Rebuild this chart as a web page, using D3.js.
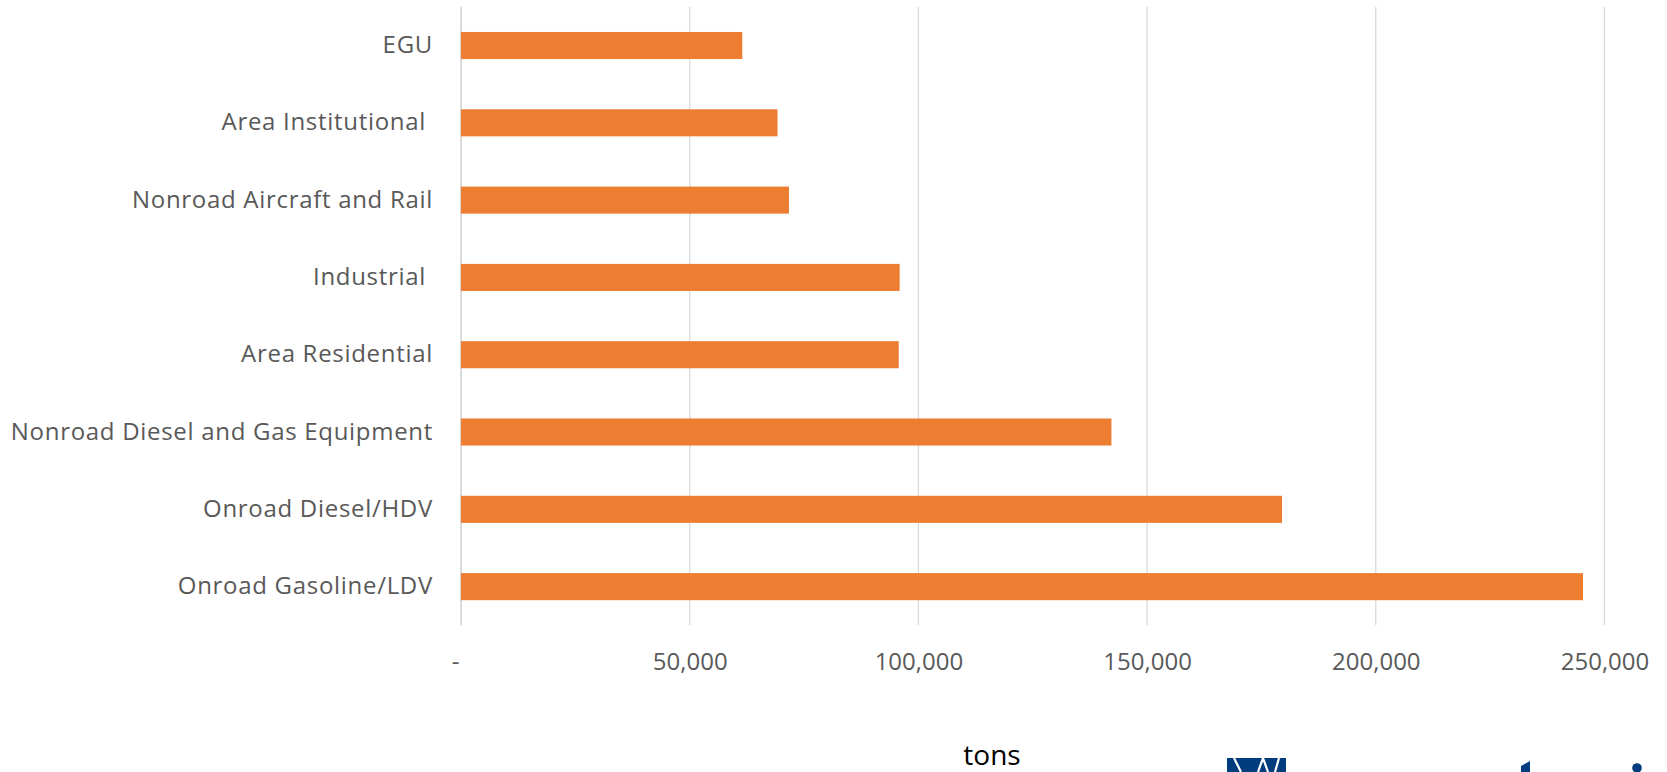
<!DOCTYPE html>
<html>
<head>
<meta charset="utf-8">
<script src="https://cdn.jsdelivr.net/npm/d3@7"></script>
<style>
  html, body { margin: 0; padding: 0; background: #fff; }
  svg { display: block; }
  text { white-space: pre; }
</style>
</head>
<body>
<div id="chart"></div>
<script>
// categories, top to bottom as drawn
var categories = [
  'EGU',
  'Area Institutional ',
  'Nonroad Aircraft and Rail',
  'Industrial ',
  'Area Residential',
  'Nonroad Diesel and Gas Equipment',
  'Onroad Diesel/HDV',
  'Onroad Gasoline/LDV'
];
// tons
var tons = [61500, 69200, 71700, 95900, 95700, 142200, 179500, 245300];
var tickValues = [0, 50000, 100000, 150000, 200000, 250000];
var axisTitle = 'tons';

var width = 1667, height = 772;
var rows = categories.map(function(c, i) { return { name: c, value: tons[i] }; });

var svg = d3.select('#chart').append('svg')
  .attr('width', width)
  .attr('height', height);

var x = d3.scaleLinear().domain([0, 250000]).range([461, 1604.5]);
var y = d3.scaleBand().domain(categories).range([6.85, 625.3])
  .paddingInner(0.65).paddingOuter(0.325);

// gridlines
svg.append('g').attr('class', 'grid')
  .selectAll('line')
  .data(tickValues)
  .enter().append('line')
  .attr('x1', function(d) { return x(d); })
  .attr('x2', function(d) { return x(d); })
  .attr('y1', y.range()[0])
  .attr('y2', y.range()[1])
  .attr('stroke', function(d) { return d === 0 ? '#c8c8c8' : '#d9d9d9'; })
  .attr('stroke-width', 1.3);

// bars
svg.append('g').attr('class', 'bars')
  .selectAll('rect')
  .data(rows)
  .enter().append('rect')
  .attr('x', x(0))
  .attr('y', function(d) { return y(d.name); })
  .attr('width', function(d) { return x(d.value) - x(0); })
  .attr('height', y.bandwidth())
  .attr('fill', '#ED7D31');

// category labels
var yAxis = svg.append('g')
  .attr('transform', 'translate(' + x(0) + ',0)')
  .call(d3.axisLeft(y).tickSize(0).tickPadding(28));
yAxis.select('.domain').remove();
yAxis.selectAll('text')
  .attr('fill', '#595959')
  .style('font-family', '"Open Sans", sans-serif')
  .style('font-size', '24px')
  .style('letter-spacing', '0.7px');

// value axis labels
var xAxis = svg.append('g')
  .attr('transform', 'translate(0,' + 650 + ')')
  .call(d3.axisBottom(x).tickValues(tickValues).tickSize(0).tickPadding(0)
    .tickFormat(function(d) { return d === 0 ? '-' : d3.format(',')(d); }));
xAxis.select('.domain').remove();
xAxis.selectAll('text')
  .attr('fill', '#595959')
  .attr('dy', '0.35em')
  .attr('y', 12)
  .style('font-family', '"Open Sans", sans-serif')
  .style('font-size', '24px')
  .attr('dx', function(d) { return d === 0 ? -6 : 0; });

// axis title
svg.append('text')
  .attr('x', 992)
  .attr('y', 765)
  .attr('text-anchor', 'middle')
  .attr('fill', '#000')
  .style('font-family', '"Open Sans", sans-serif')
  .style('font-size', '28px')
  .text(axisTitle);

// logo, cut off by the bottom edge
var logo = svg.append('g').attr('class', 'logo');
logo.append('rect')
  .attr('x', 1227).attr('y', 758).attr('width', 59).attr('height', 14)
  .attr('fill', '#003C7E');
logo.append('path')
  .attr('d', 'M1234,758 L1241,772 M1258,772 L1263,758 M1263,758 L1268,772 M1279,758 L1275,772')
  .attr('stroke', '#fff').attr('stroke-width', 2.2).attr('fill', 'none');
logo.append('path')
  .attr('d', 'M1521,766 L1530,761 L1530,772 L1521,772 Z')
  .attr('fill', '#003C7E');
logo.append('circle')
  .attr('cx', 1637).attr('cy', 768).attr('r', 4.8)
  .attr('fill', '#003C7E');
</script>
</body>
</html>
